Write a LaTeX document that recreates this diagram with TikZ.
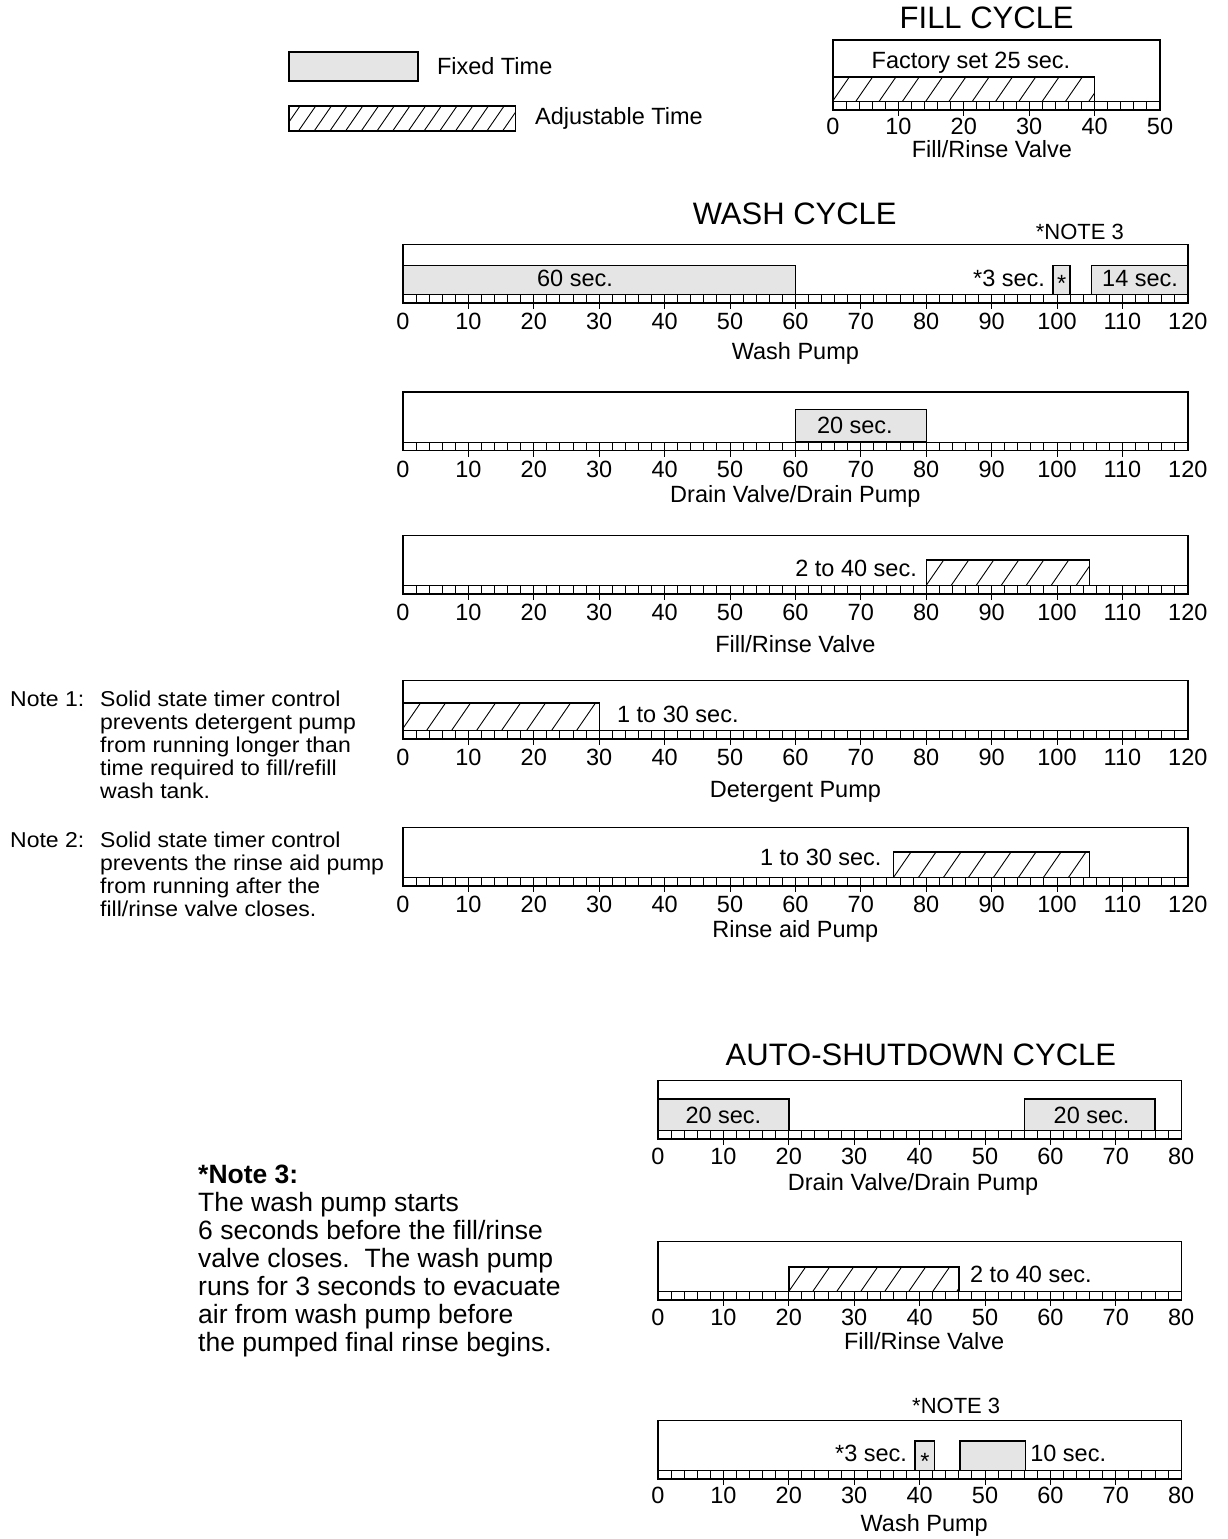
\documentclass[tikz,border=0pt]{standalone}
\usepackage{fontspec}
\setmainfont{Liberation Sans}
\newfontfamily\notefont[FakeStretch=1.07]{Liberation Sans}
\usepackage{xcolor}
\usepackage{tikz}

\definecolor{fixedgray}{gray}{0.9}

% time axis: frame, strip of cells, ticks and numbers
\newcommand{\timechart}[4]{%
  \pgfmathtruncatemacro\tlast{#2-10}
  \draw[frame] (0,-#3) rectangle (#2,0);
  \draw[cell] (0,-8.5) -- (#2,-8.5);
  \foreach \t in {2,4,...,#2} \draw[cell] (\t,-8.5) -- (\t,0);
  \foreach \t in {10,20,...,\tlast} \draw[cell] (\t,0) -- (\t,6);
  \foreach \t in {0,10,...,#2} \node[num] (#1\t) at (\t,#4) {\t};
}

% adjustable time bar
\newcommand{\hatchbar}[5]{%
  \pgfmathsetmacro\hstep{#5/6.54}
  \pgfmathsetmacro\hrun{((#4)-(#3))/1.45/6.54}
  \pgfmathsetmacro\hfirst{#1+0.7*\hstep}
  \pgfmathsetmacro\hsecond{\hfirst+\hstep}
  \pgfmathsetmacro\hlast{#2+\hrun}
  \begin{scope}
    \clip (#1,#3) rectangle (#2,#4);
    \foreach \hx in {\hfirst,\hsecond,...,\hlast}
      \draw[hatch] (\hx-\hrun,#4) -- (\hx,#3);
  \end{scope}
  \draw[bar] (#1,#3) rectangle (#2,#4);
}

\begin{document}
\begin{tikzpicture}[
  x=1pt, y=-1pt,
  frame/.style={line width=1.4pt},
  cell/.style={line width=1pt},
  hatch/.style={line width=0.9pt},
  bar/.style={line width=1.4pt},
  fixedbar/.style={draw, line width=1.4pt, fill=fixedgray},
  num/.style={inner sep=0pt, font=\fontsize{23.5}{25}\selectfont},
  lbl/.style={inner sep=0pt, anchor=base, font=\fontsize{23.5}{25}\selectfont},
  title/.style={inner sep=0pt, anchor=base, font=\fontsize{31}{34}\selectfont},
  notemark/.style={inner sep=0pt, anchor=base, font=\fontsize{22}{24}\selectfont},
  notetext/.style={inner sep=0pt, anchor=base west, font=\notefont\fontsize{21.5}{23}\selectfont},
  bigtext/.style={inner sep=0pt, anchor=base west, font=\fontsize{26.5}{28}\selectfont}
]
  \useasboundingbox[fill=white] (0,0) rectangle (1228,1539);

  % legend
  \begin{scope}[shift={(289,131)}, x=6.54pt]
    \draw[fixedbar] (0,-79) rectangle (19.7,-50);
    \hatchbar{0}{34.6}{-25}{0}{15.7}
    \node[lbl, anchor=base west] (fixedlbl) at (22.6,-56.7) {Fixed Time};
    \node[lbl, anchor=base west] (adjlbl) at (37.6,-6.7) {Adjustable Time};
  \end{scope}

  % fill cycle
  \begin{scope}[shift={(833,110)}, x=6.54pt]
    \node[title] (filltitle) at (23.5,-82) {FILL CYCLE};
    \timechart{fct}{50}{70}{16.5}
    \hatchbar{0}{40}{-33}{-8.5}{23.3}
    \node[lbl] (fillset) at (21.1,-42) {Factory set 25 sec.};
    \node[lbl] (fillname) at (24.3,47) {Fill/Rinse Valve};
  \end{scope}

  % wash cycle
  \begin{scope}[shift={(403,303)}, x=6.54pt]
    \node[title] (washtitle) at (59.9,-79) {WASH CYCLE};
    \node[notemark] (washnote) at (103.5,-64) {*NOTE 3};
    \timechart{wpt}{120}{58.5}{18.5}
    \draw[fixedbar] (0,-37.5) rectangle (60,-8.5);
    \draw[fixedbar] (99.4,-37.5) rectangle (102,-8.5);
    \draw[fixedbar] (105.3,-37.5) rectangle (120,-8.5);
    \node[lbl] (wp60) at (26.3,-17) {60 sec.};
    \node[lbl, anchor=base east] (wp3) at (98.2,-17) {*3 sec.};
    \node[lbl] (wpstar) at (100.7,-11.5) {*};
    \node[lbl] (wp14) at (112.7,-17) {14 sec.};
    \node[lbl] (wpname) at (60,56) {Wash Pump};
  \end{scope}

  \begin{scope}[shift={(403,450.5)}, x=6.54pt]
    \timechart{dvt}{120}{58.5}{18.5}
    \draw[fixedbar] (60,-41) rectangle (80,-8.5);
    \node[lbl] (dv20) at (69.1,-17) {20 sec.};
    \node[lbl] (dvname) at (60,51.5) {Drain Valve/Drain Pump};
  \end{scope}

  \begin{scope}[shift={(403,594)}, x=6.54pt]
    \timechart{frt}{120}{58.5}{18}
    \hatchbar{80}{105}{-34}{-8.5}{25}
    \node[lbl, anchor=base east] (fr40) at (78.6,-18) {2 to 40 sec.};
    \node[lbl] (frname) at (60,58) {Fill/Rinse Valve};
  \end{scope}

  \begin{scope}[shift={(403,739)}, x=6.54pt]
    \timechart{dpt}{120}{58.5}{18.5}
    \hatchbar{0}{30}{-36}{-8.5}{25}
    \node[lbl, anchor=base west] (dp30) at (32.7,-16.5) {1 to 30 sec.};
    \node[lbl] (dpname) at (60,58) {Detergent Pump};
  \end{scope}

  \begin{scope}[shift={(403,886)}, x=6.54pt]
    \timechart{rat}{120}{58.5}{18}
    \hatchbar{75}{105}{-34}{-8.5}{25}
    \node[lbl, anchor=base east] (ra30) at (73.2,-21) {1 to 30 sec.};
    \node[lbl] (raname) at (60,51) {Rinse aid Pump};
  \end{scope}

  % notes 1 and 2
  \node[notetext] (note1) at (10,706) {Note 1:};
  \foreach \ln [count=\i] in {Solid state timer control, prevents detergent pump,
      from running longer than, time required to fill/refill, wash tank.}
    \node[notetext] (note1-\i) at (100,{706+23*(\i-1)}) {\ln};
  \node[notetext] (note2) at (10,847) {Note 2:};
  \foreach \ln [count=\i] in {Solid state timer control, prevents the rinse aid pump,
      from running after the, fill/rinse valve closes.}
    \node[notetext] (note2-\i) at (100,{847+23*(\i-1)}) {\ln};

  % auto-shutdown cycle
  \begin{scope}[shift={(658,1139)}, x=6.54pt]
    \node[title] (autotitle) at (40.2,-74) {AUTO-SHUTDOWN CYCLE};
    \timechart{adt}{80}{58.5}{17.5}
    \draw[fixedbar] (0,-40) rectangle (20,-8.5);
    \draw[fixedbar] (56,-40) rectangle (76,-8.5);
    \node[lbl] (ad20a) at (10,-16) {20 sec.};
    \node[lbl] (ad20b) at (66.3,-16) {20 sec.};
    \node[lbl] (adname) at (39,51) {Drain Valve/Drain Pump};
  \end{scope}

  \begin{scope}[shift={(658,1300)}, x=6.54pt]
    \timechart{aft}{80}{58.5}{17}
    \hatchbar{20}{46}{-33}{-8.5}{24}
    \node[lbl, anchor=base west] (af40) at (47.7,-17.5) {2 to 40 sec.};
    \node[lbl] (afname) at (40.7,49.5) {Fill/Rinse Valve};
  \end{scope}

  \begin{scope}[shift={(658,1479)}, x=6.54pt]
    \node[notemark] (awnote) at (45.6,-65.5) {*NOTE 3};
    \timechart{awt}{80}{58.5}{16.5}
    \draw[fixedbar] (39.3,-38) rectangle (42.3,-8.5);
    \draw[fixedbar] (46.2,-38) rectangle (56.2,-8.5);
    \node[lbl, anchor=base east] (aw3) at (38.1,-17.5) {*3 sec.};
    \node[lbl] (awstar) at (40.8,-10) {*};
    \node[lbl, anchor=base west] (aw10) at (56.9,-17.5) {10 sec.};
    \node[lbl] (awname) at (40.7,52.5) {Wash Pump};
  \end{scope}

  % note 3
  \node[bigtext, font=\bfseries\fontsize{26.5}{28}\selectfont] (note3) at (198,1183) {*Note 3:};
  \foreach \ln [count=\i] in {The wash pump starts, 6 seconds before the fill/rinse,
      valve closes.\ \ The wash pump, runs for 3 seconds to evacuate,
      air from wash pump before, the pumped final rinse begins.}
    \node[bigtext] (note3-\i) at (198,{1183+28*\i}) {\ln};
\end{tikzpicture}
\end{document}
